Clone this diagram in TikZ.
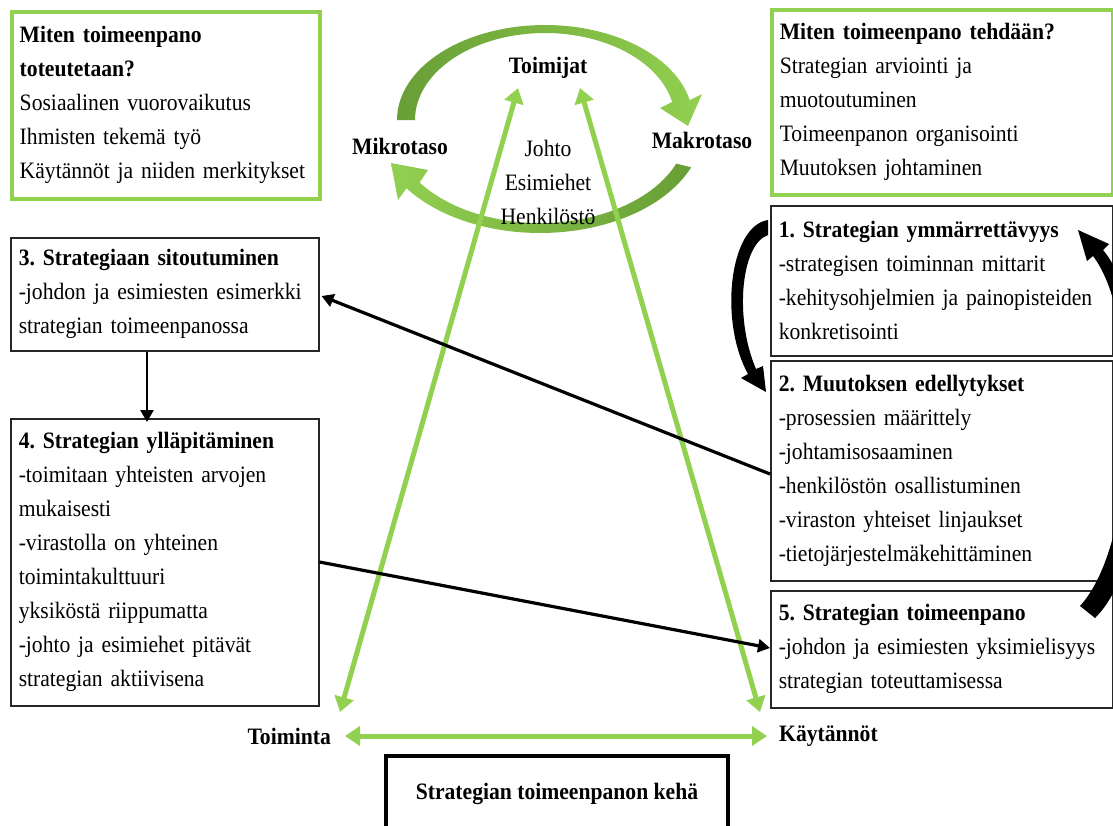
\documentclass[tikz,border=0pt]{standalone}
\usepackage{fontspec}
\setmainfont{Liberation Serif}[FakeStretch=0.92]
\usetikzlibrary{arrows.meta,calc}
\definecolor{lgreen}{RGB}{146,208,80}
\definecolor{dgreen}{RGB}{104,158,54}
\frenchspacing
\begin{document}
\begin{tikzpicture}[x=1pt,y=-1pt,
  txt/.style={font=\fontsize{23.5}{34}\selectfont, inner sep=0pt},
  bold/.style={font=\fontsize{23.5}{34}\selectfont\bfseries, inner sep=0pt},
  box/.style={txt, draw=black!85, line width=1.5pt, fill=white, anchor=north west,
    align=left, inner xsep=8pt, inner ysep=0pt},
  gbox/.style={box, draw=lgreen, line width=3.5pt},
  garrow/.style={draw=lgreen, line width=5pt,
    arrows={Triangle[length=15pt,width=19pt]-Triangle[length=15pt,width=19pt]}},
  blk/.style={draw=black, line width=3.2pt,
    arrows={-Triangle[length=12pt,width=13pt]}}]
\useasboundingbox (0,0) rectangle (1113,825);
\clip (0,0) rectangle (1113,825);

% question boxes
\node[gbox, text width=292pt, minimum height=187pt] (how) at (10,10)
  {\textbf{Miten toimeenpano}\\\textbf{toteutetaan?}\\Sosiaalinen vuorovaikutus\\Ihmisten tekemä työ\\Käytännöt ja niiden merkitykset};
\node[gbox, text width=325pt, minimum height=185pt] (what) at (770,8)
  {\textbf{Miten toimeenpano tehdään?}\\Strategian arviointi ja\\muotoutuminen\\Toimeenpanon organisointi\\Muutoksen johtaminen};

% phase boxes
\node[box, text width=326pt, minimum height=150pt] (b1) at (770,205)
  {\textbf{1. Strategian ymmärrettävyys}\\-strategisen toiminnan mittarit\\-kehitysohjelmien ja painopisteiden\\konkretisointi};
\node[box, text width=326pt, minimum height=220pt] (b2) at (770,360)
  {\textbf{2. Muutoksen edellytykset}\\-prosessien määrittely\\-johtamisosaaminen\\-henkilöstön osallistuminen\\-viraston yhteiset linjaukset\\-tietojärjestelmäkehittäminen};
\node[box, text width=326pt, minimum height=117pt] (b5) at (770,590)
  {\textbf{5. Strategian toimeenpano}\\-johdon ja esimiesten yksimielisyys\\strategian toteuttamisessa};
\node[box, text width=292pt, minimum height=113pt] (b3) at (10,237)
  {\textbf{3. Strategiaan sitoutuminen}\\-johdon ja esimiesten esimerkki\\strategian toimeenpanossa};
\node[box, text width=292pt, minimum height=287pt] (b4) at (10,418)
  {\textbf{4. Strategian ylläpitäminen}\\-toimitaan yhteisten arvojen\\mukaisesti\\-virastolla on yhteinen\\toimintakulttuuri\\yksiköstä riippumatta\\-johto ja esimiehet pitävät\\strategian aktiivisena};

% title box
\node[bold, draw=black, line width=4pt, anchor=north west, minimum width=342pt,
  minimum height=76pt] (cycle) at (384,754) {Strategian toimeenpanon kehä};

% micro/macro cycle
\shade[left color=dgreen, right color=lgreen]
  plot[domain=180:12, samples=60] ({545+148*cos(\x)},{120-95*sin(\x)})
  -- (702,94) -- (688,126) -- (660,108)
  -- plot[domain=12:180, samples=60] ({545+130*cos(\x)},{120-87*sin(\x)}) -- cycle;
\shade[left color=lgreen, right color=dgreen]
  plot[domain=-22:-145, samples=60] ({540+163*cos(\x)},{128-105*sin(\x)})
  -- (398,200) -- (391,163) -- (428,170)
  -- plot[domain=-145:-22, samples=60] ({540+147*cos(\x)},{128-95*sin(\x)}) -- cycle;

% labels
\node[bold] (actors) at (548,68) {Toimijat};
\node[bold] (micro) at (400,146) {Mikrotaso};
\node[bold] (macro) at (702,140) {Makrotaso};
\node[txt, align=center] (staff) at (548,182) {Johto\\Esimiehet\\Henkilöstö};
\node[bold, anchor=east] (action) at (331,736) {Toiminta};
\node[bold, anchor=west] (practice) at (779,736) {Käytännöt};

% green triangle
\coordinate (gL) at (340,712);
\coordinate (gTL) at (518,88);
\coordinate (gTR) at (580,88);
\coordinate (gR) at (760,712);
\coordinate (hL) at (345,736);
\coordinate (hR) at (767,736);
\draw[garrow] (gL) -- (gTL);
\draw[garrow] (gTR) -- (gR);
\draw[garrow] (hL) -- (hR);

% connectors between phases
\coordinate (x34) at (147,0);
\coordinate (y2) at (0,474);
\coordinate (y3) at (0,296);
\coordinate (y4) at (0,562);
\coordinate (y5) at (0,648);
\draw[blk, line width=2.6pt] (b3.south -| x34) -- ([yshift=-4pt]b4.north -| x34);
\draw[blk] (b2.west |- y2) -- ([xshift=2pt]b3.east |- y3);
\draw[blk] (b4.east |- y4) -- (b5.west |- y5);

% curved arrows 1 -> 2 and 5 -> 1
\fill[black] (768,220) .. controls (729,226) and (719,322) .. (748,374)
  -- (741,378) -- (766,392) -- (763,366) -- (756,369)
  .. controls (734,318) and (741,244) .. (768,235) -- cycle;
\fill[black] (1080,606) .. controls (1140,540) and (1142,320) .. (1093,256)
  -- (1087,261) -- (1078,230) -- (1109,244) -- (1103,250)
  .. controls (1158,315) and (1160,555) .. (1095,618) -- cycle;
\end{tikzpicture}
\end{document}
